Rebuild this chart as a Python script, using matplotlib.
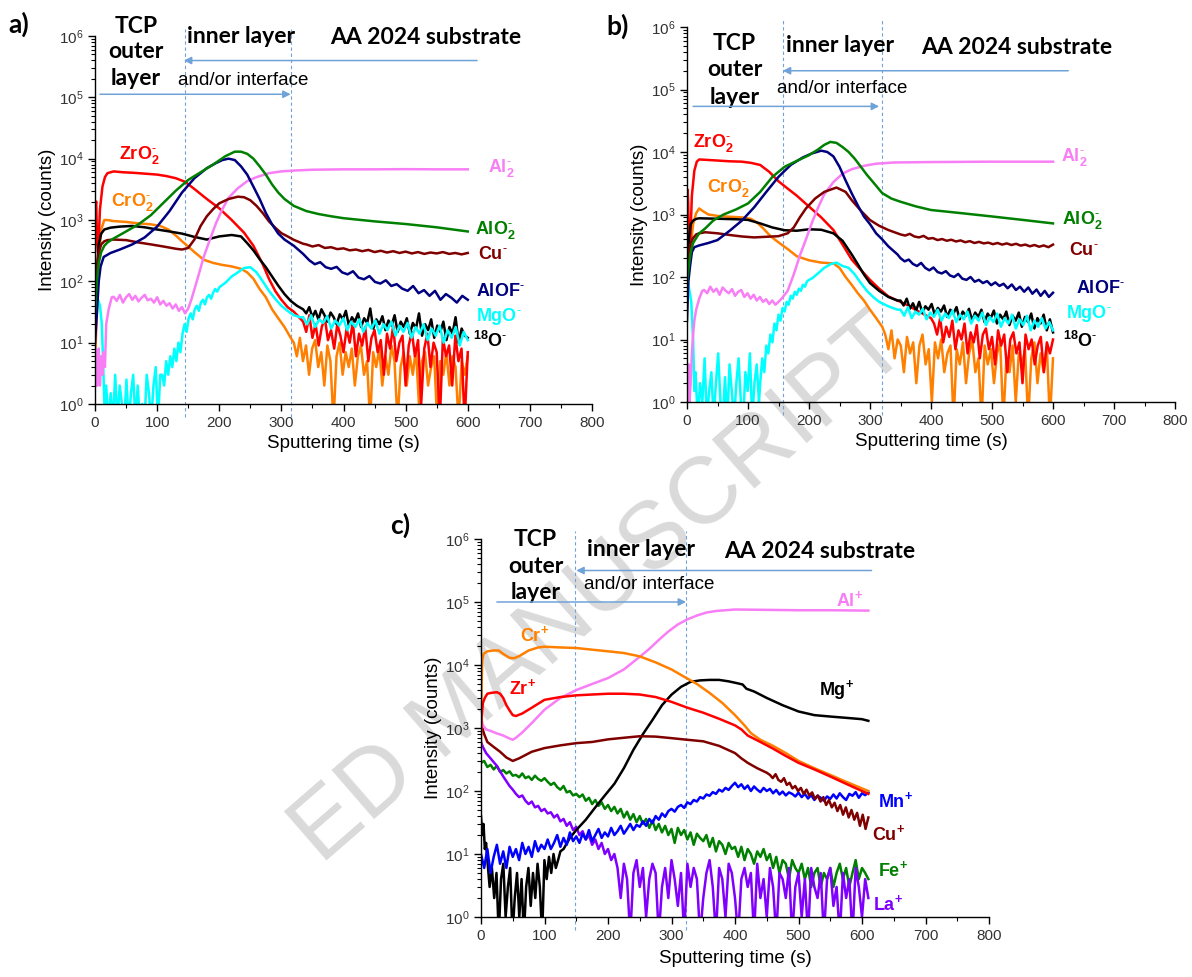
import numpy as np
import matplotlib
matplotlib.use('Agg')
import matplotlib.pyplot as plt
from matplotlib.ticker import MultipleLocator, LogLocator, NullFormatter

plt.rcParams['font.family'] = ['Liberation Sans', 'DejaVu Sans']
plt.rcParams['mathtext.fontset'] = 'custom'
plt.rcParams['mathtext.rm'] = 'Liberation Sans'
plt.rcParams['mathtext.bf'] = 'Liberation Sans:bold'
plt.rcParams['mathtext.it'] = 'Liberation Sans:italic'

# ---------------- panel a (negative ions) ----------------
a_zro2_t = [0, 1, 2, 3, 5, 8, 12, 16, 20, 30, 45, 60, 80, 100, 115, 130, 145, 160, 180, 200,
            220, 240, 255, 270, 280, 290, 300, 310, 320, 330]
a_zro2_v = [300, 1800, 2000, 600, 300, 1500, 3500, 5000, 5800, 6200, 6000, 5900, 5700, 5500, 5200, 4800, 4200, 3200, 2200, 1550,
            1000, 620, 380, 190, 110, 70, 50, 38, 32, 25]
a_zro2_tail = [22, 15, 28, 12, 20, 9, 18, 25, 11, 16, 8, 20, 13, 7, 17, 10, 22, 6, 14, 9, 18, 5, 12, 16, 7, 11, 3,
               14, 8, 19, 5, 10, 13, 2, 9, 15, 6, 11, 1, 8, 14, 4, 10, 7, 0.5, 12, 6, 9, 2, 13, 5, 8, 0.5, 7]

a_cro2_t = [0, 3, 6, 10, 15, 20, 30, 50, 70, 90, 105, 118, 130, 140, 150, 160, 175, 190, 205, 220,
            235, 245, 255, 265, 275, 285, 295, 305, 315]
a_cro2_v = [5, 30, 200, 700, 1000, 1000, 960, 930, 880, 850, 800, 700, 560, 450, 370, 300, 225, 200, 185, 175,
            160, 140, 110, 75, 55, 35, 25, 18, 12]
a_cro2_tail = [10, 6, 12, 5, 9, 3, 8, 11, 4, 7, 2, 9, 5, 0.5, 6, 10, 3, 7, 4, 8, 2, 6, 9, 3, 5, 0.5, 7, 4, 8, 2,
               6, 3, 9, 5, 0.5, 4, 7, 2, 6, 3, 8, 1, 5, 7, 2, 4, 6, 0.5, 5, 3, 7, 2, 6, 4, 0.5, 5, 3, 6]

a_o18_t = [0, 3, 6, 10, 15, 25, 40, 60, 80, 100, 120, 140, 160, 180, 200, 220, 235, 245, 255, 265,
           275, 285, 295, 305, 315, 325, 335]
a_o18_v = [20, 150, 400, 600, 700, 750, 780, 800, 760, 700, 650, 600, 530, 480, 540, 570, 540, 420, 320, 230,
           170, 120, 85, 62, 48, 40, 35]
a_o18_tail = [30, 38, 26, 33, 24, 35, 28, 22, 31, 26, 20, 29, 24, 33, 19, 26, 22, 30, 18, 25, 21, 36, 17, 24, 20,
              27, 16, 23, 19, 28, 15, 22, 18, 25, 14, 21, 17, 30, 13, 20, 16, 24, 12, 19, 15, 22, 11, 18, 14, 26,
              10, 17, 13, 12]

a_alo2_t = [0, 3, 6, 10, 15, 20, 30, 50, 70, 90, 110, 130, 150, 170, 190, 210, 225, 235, 245, 255,
            265, 275, 285, 295, 305, 320, 340, 360, 380, 400, 450, 500, 550, 600]
a_alo2_v = [30, 100, 200, 300, 380, 430, 500, 650, 850, 1200, 1900, 3000, 4500, 6000, 8000, 11000, 13000, 13000, 12000, 10000,
            7500, 5500, 3800, 2800, 2200, 1700, 1400, 1250, 1150, 1070, 950, 860, 760, 650]

a_alof_t = [0, 3, 6, 9, 14, 25, 40, 60, 80, 100, 120, 140, 160, 180, 195, 205, 215, 225, 235, 245,
            255, 265, 275, 285, 295, 305, 320, 335]
a_alof_v = [10, 30, 100, 175, 250, 290, 330, 400, 520, 780, 1400, 2800, 4800, 7000, 8500, 9500, 10000, 9500, 7500, 5500,
            3500, 2200, 1300, 850, 600, 480, 380, 280]
a_alof_tail = [220, 190, 205, 170, 160, 172, 140, 130, 146, 115, 108, 122, 98, 92, 104, 84, 90, 76, 70, 84,
               64, 72, 58, 70, 50, 62, 54, 45, 58, 50]

a_cu_t = [0, 3, 6, 10, 15, 20, 30, 50, 70, 90, 110, 130, 140, 150, 160, 170, 180, 190, 200, 215,
          230, 240, 250, 260, 270, 280, 290, 300, 310, 320, 335]
a_cu_v = [50, 150, 300, 400, 450, 470, 480, 470, 430, 400, 370, 340, 330, 350, 480, 800, 1150, 1500, 1870, 2200,
          2400, 2350, 2100, 1700, 1300, 950, 750, 610, 540, 475, 410]
a_cu_tail = [400, 370, 390, 350, 360, 335, 345, 320, 330, 310, 325, 300, 315, 295, 310, 290, 305, 285, 300, 280,
             295, 285, 300, 280, 290, 275, 290]

a_al2_t = [0, 1, 2, 3, 4, 5, 6, 8, 10, 12, 14, 16, 18, 22, 27]
a_al2_v = [2, 8, 2, 7, 2, 3, 8, 2, 6, 3, 7, 4, 20, 35, 55]
a_al2_plateau = [56, 48, 60, 45, 55, 62, 50, 58, 47, 54, 60, 49, 52, 45, 55, 42, 48, 40, 44, 36, 42, 33, 38, 30, 36]
a_al2_rise_t = [155, 165, 175, 185, 195, 205, 215, 230, 245, 260, 280, 300, 320, 350, 400, 450, 500, 550, 600]
a_al2_rise_v = [50, 110, 250, 480, 900, 1500, 2300, 3300, 4300, 5000, 5800, 6200, 6400, 6600, 6700, 6700, 6750, 6700, 6700]

a_mgo_t = [0, 2, 5, 8, 11, 13, 16]
a_mgo_v = [35, 45, 50, 40, 20, 5, 0.5]
a_mgo_low = [2, 0.5, 1.5, 0.5, 3, 0.5, 2, 1, 0.5, 2.5, 0.5, 1.5, 3, 0.5, 2, 0.5, 1, 0.5, 3, 1.5, 0.5, 2, 4, 0.5, 3]
a_mgo_rise = [3, 2, 5, 3, 6, 4, 8, 5, 10, 7, 14, 20, 15, 25, 30, 24, 35, 40, 33, 45, 50, 42, 55, 60, 52, 65, 75, 68, 80]
a_mgo_peak_t = [210, 220, 230, 240, 250, 260, 270, 280, 290, 300, 310, 320, 330]
a_mgo_peak_v = [95, 120, 140, 165, 170, 140, 100, 70, 52, 40, 33, 28, 26]
a_mgo_tail = [26, 20, 28, 18, 24, 21, 27, 17, 23, 19, 25, 16, 22, 18, 24, 15, 21, 17, 23, 14, 20, 16, 22, 13, 19,
              15, 21, 12, 18, 14, 20, 11, 17, 13, 19, 10, 16, 12, 18, 9, 15, 11]

# ---------------- panel b (negative ions) ----------------
b_zro2_t = [0, 1, 2, 3, 5, 8, 12, 16, 20, 30, 50, 70, 90, 105, 120, 135, 150, 165, 180, 200,
            220, 240, 255, 270, 285, 300, 315, 330, 345, 360, 380, 400]
b_zro2_v = [200, 2500, 1500, 400, 300, 2000, 5000, 7000, 7600, 7500, 7300, 7100, 7000, 6700, 6200, 4800, 3400, 2600, 2000, 1340,
            900, 565, 330, 190, 130, 90, 65, 49, 42, 36, 28, 22]
b_zro2_tail = [18, 12, 22, 9, 16, 11, 20, 7, 14, 10, 18, 6, 13, 9, 17, 5, 12, 15, 7, 11, 4, 14, 8, 12, 3, 10, 13,
               6, 9, 2, 12, 7, 10, 4, 8, 11, 3, 9, 6, 10]

b_cro2_t = [0, 3, 6, 10, 15, 20, 25, 35, 50, 70, 90, 105, 115, 125, 135, 145, 155, 165, 180, 200,
            220, 240, 250, 260, 270, 280, 290, 300, 310, 320]
b_cro2_v = [100, 150, 300, 700, 1050, 1250, 1150, 1000, 950, 920, 900, 850, 740, 600, 470, 390, 330, 280, 215, 185,
            170, 165, 140, 100, 75, 55, 42, 30, 22, 16]
b_cro2_tail = [12, 7, 14, 5, 10, 8, 3, 11, 6, 9, 2, 8, 12, 4, 7, 1, 9, 5, 10, 3, 6, 8, 0.5, 7, 4, 9, 2, 6, 10, 3,
               5, 0.5, 8, 4, 7, 2, 6, 9, 0.5, 5, 3, 8, 1, 6, 4, 7, 0.5, 5, 9, 2, 6, 3, 8, 0.5, 5]

b_o18_t = [0, 3, 6, 10, 15, 20, 40, 60, 80, 100, 120, 140, 160, 180, 200, 220, 240, 255, 270, 280,
           290, 300, 315, 330, 345]
b_o18_v = [100, 400, 700, 800, 850, 870, 860, 850, 840, 820, 720, 620, 560, 550, 580, 570, 500, 380, 230, 160,
           110, 80, 60, 48, 42]
b_o18_tail = [42, 35, 45, 31, 38, 29, 40, 27, 34, 30, 37, 25, 32, 28, 35, 23, 30, 26, 33, 21, 28, 24, 31, 20, 27,
              23, 30, 19, 26, 22, 29, 18, 25, 21, 28, 17, 24, 20, 27, 16, 23, 19, 26, 15, 22, 18, 25, 14, 21, 13]

b_alo2_t = [0, 3, 6, 10, 15, 20, 30, 43, 60, 80, 100, 120, 140, 160, 180, 200, 215, 225, 235, 245,
            255, 265, 275, 285, 295, 305, 320, 335, 350, 375, 400, 450, 500, 550, 600]
b_alo2_v = [80, 150, 250, 350, 420, 500, 600, 800, 1000, 1200, 1500, 2300, 4000, 5800, 7200, 8900, 11000, 13000, 14500, 14000,
            12000, 10000, 7800, 5800, 4300, 3300, 2200, 1800, 1600, 1350, 1180, 1050, 930, 820, 720]

b_alof_t = [0, 2, 5, 8, 12, 20, 35, 50, 70, 90, 110, 130, 150, 170, 190, 205, 220, 230, 240, 250,
            260, 270, 280, 290, 300, 310, 320, 330, 345]
b_alof_v = [20, 80, 150, 250, 300, 320, 350, 390, 550, 800, 1300, 2300, 4000, 6200, 8200, 9500, 10500, 10000, 8500, 5800,
            3500, 2180, 1400, 930, 700, 500, 400, 310, 230]
b_alof_tail = [200, 178, 190, 162, 150, 168, 140, 128, 142, 120, 114, 124, 106, 100, 112, 94, 90, 100, 84, 90,
               80, 86, 74, 82, 72, 78, 66, 76, 62, 70, 58, 68, 54, 63, 50, 60, 48, 56]

b_cu_t = [0, 3, 6, 10, 15, 20, 30, 50, 70, 90, 110, 130, 150, 165, 175, 185, 195, 210, 225, 245,
          260, 270, 285, 300, 315, 330, 345]
b_cu_v = [100, 250, 350, 420, 480, 500, 520, 500, 470, 445, 430, 440, 450, 500, 620, 900, 1250, 1800, 2300, 2700,
          2300, 1700, 1150, 815, 660, 565, 500]
b_cu_tail = [480, 460, 490, 445, 430, 455, 410, 420, 390, 405, 380, 395, 370, 385, 360, 375, 350, 365, 345, 355,
             335, 350, 330, 345, 325, 340, 318, 330, 310, 325, 305, 320, 300, 330]

b_al2_t = [0, 1, 2, 3, 4, 6, 8, 10, 12, 15, 20, 25]
b_al2_v = [1, 3, 1, 4, 1, 2, 6, 12, 20, 30, 45, 60]
b_al2_plateau = [62, 55, 70, 58, 65, 52, 68, 60, 55, 64, 50, 58, 62, 48, 55, 45, 52, 42, 48, 40, 44, 37, 42, 36, 40]
b_al2_rise_t = [155, 165, 175, 185, 195, 205, 215, 225, 240, 255, 270, 290, 310, 340, 400, 500, 600]
b_al2_rise_v = [45, 60, 110, 220, 400, 750, 1300, 2100, 3300, 4500, 5300, 6000, 6500, 6800, 6900, 7000, 7000]

b_mgo_t = [0, 2, 4, 7, 10, 12]
b_mgo_v = [50, 80, 60, 40, 10, 1.5]
b_mgo_low = [3, 0.5, 2, 1, 5, 0.5, 1.5, 3, 0.5, 2, 6, 1, 0.5, 2.5, 0.5, 4, 1.5, 0.5, 2, 5, 1, 0.5, 3, 1.5, 6,
             0.5, 2, 4, 1]
b_mgo_rise = [2, 5, 3, 8, 6, 12, 9, 18, 14, 25, 20, 32, 28, 40, 36, 50, 45, 58, 52, 65, 60, 75, 70, 85, 90]
b_mgo_peak_t = [205, 215, 225, 235, 245, 255, 265, 275, 285, 295, 305, 315, 330, 345]
b_mgo_peak_v = [95, 115, 140, 160, 170, 150, 140, 110, 80, 60, 48, 40, 34, 30]
b_mgo_tail = [30, 24, 33, 22, 28, 25, 31, 21, 27, 23, 30, 20, 26, 22, 29, 19, 25, 21, 28, 18, 24, 20, 27, 17, 23,
              19, 26, 16, 22, 18, 25, 15, 21, 17, 24, 14, 20, 16, 22, 15, 19, 14]

# ---------------- panel c (positive ions) ----------------
c_al_t = [0, 3, 8, 15, 25, 35, 45, 50, 55, 65, 80, 100, 125, 150, 175, 200, 225, 250, 265, 280,
          295, 310, 325, 340, 355, 370, 385, 400, 450, 500, 550, 610]
c_al_v = [1500, 1100, 950, 900, 820, 760, 680, 650, 700, 850, 1200, 1950, 3000, 4000, 5000, 6200, 8500, 13500, 18000, 25000,
          34000, 44000, 53000, 61000, 68000, 72000, 74000, 76000, 75000, 74000, 74000, 73000]

c_cr_t = [0, 1, 2, 4, 10, 20, 28, 35, 45, 52, 60, 75, 90, 100, 125, 150, 175, 200, 225, 250,
          275, 300, 320, 340, 360, 380, 400, 415, 425, 440, 460, 480, 500, 525, 550, 575, 600, 610]
c_cr_v = [500, 5000, 12000, 15000, 16500, 17000, 17000, 15000, 13000, 12800, 13800, 17000, 19000, 19500, 19000, 18600, 17500, 16500, 15500, 13700,
          11000, 8500, 6500, 5000, 3600, 2500, 1600, 1100, 830, 650, 520, 400, 300, 230, 180, 140, 110, 100]

c_zr_t = [0, 1, 3, 6, 10, 15, 25, 30, 35, 40, 45, 50, 55, 65, 80, 100, 125, 150, 175, 200,
          225, 250, 275, 300, 325, 350, 375, 400, 410, 420, 440, 460, 480, 500, 525, 550, 575, 600, 610]
c_zr_v = [800, 1500, 2500, 3000, 3500, 3600, 3700, 3500, 3000, 2300, 1900, 1600, 1550, 1700, 2100, 2800, 3100, 3300, 3400, 3500,
          3500, 3400, 3100, 2600, 2100, 1750, 1400, 1100, 950, 760, 600, 470, 360, 280, 220, 170, 130, 100, 90]

c_mg_t0 = [0, 2, 4, 6, 8]
c_mg_v0 = [40, 20, 30, 12, 15]
c_mg_low = [8, 3, 6, 2, 5, 0.5, 4, 7, 1, 3, 6, 0.5, 2, 5, 1, 4, 0.5, 3, 6, 1.5, 5, 2, 7, 3, 0.5, 8, 4, 9, 5, 10,
            6, 8, 11]
c_mg_t = [130, 140, 150, 165, 180, 195, 210, 225, 240, 255, 270, 285, 300, 315, 330, 345, 360, 375, 390, 405,
          412, 418, 430, 450, 475, 500, 525, 550, 575, 600, 610]
c_mg_v = [12, 18, 24, 35, 55, 85, 130, 230, 450, 800, 1340, 2300, 3380, 4500, 5400, 5700, 5800, 5800, 5500, 5100,
          4900, 4200, 3800, 3000, 2300, 1830, 1600, 1520, 1450, 1380, 1300]

c_cu_t = [0, 2, 5, 10, 20, 30, 40, 50, 60, 80, 100, 125, 150, 175, 200, 225, 250, 275, 300, 325,
          350, 375, 400, 410, 420, 435, 450]
c_cu_v = [900, 1000, 800, 600, 500, 420, 340, 300, 330, 420, 480, 530, 575, 600, 660, 700, 740, 730, 690, 650,
          615, 520, 400, 330, 280, 230, 195]
c_cu_tail = [180, 160, 185, 150, 140, 160, 125, 135, 110, 120, 100, 112, 90, 105, 85, 95, 75, 85, 68, 80, 60, 72,
             55, 65, 48, 60, 42, 55, 38, 50, 35, 45, 28, 42, 25, 38]

c_mn = [10, 6, 12, 5, 9, 14, 7, 11, 6, 13, 9,
        12, 8, 15, 10, 13, 9, 16, 11, 14, 12,
        17, 12, 15, 20, 13, 18, 14, 22, 16, 19,
        15, 21, 17, 24, 16, 20, 25, 18, 22, 19,
        26, 20, 23, 28, 21, 25, 30, 24, 29, 27,
        33, 28, 36, 31, 40, 35, 44, 39, 48, 52,
        47, 56, 60, 54, 66, 62, 72, 68, 80, 76,
        88, 84, 96, 90, 105, 98, 112, 104, 120, 135,
        115, 128, 108, 122, 100, 118, 105, 96, 112, 100,
        108, 92, 104, 88, 98, 85, 95, 90, 82, 94,
        80, 90, 76, 86, 72, 84, 78, 70, 82, 75,
        88, 76, 92, 80, 72, 90, 84, 96, 78, 92, 86, 95]
c_fe = [280, 300, 240, 260, 220, 250, 200, 215, 190, 205, 175,
        180, 165, 190, 160, 170, 150, 175, 155, 145, 160,
        140, 125, 135, 115, 105, 120, 95, 100, 85, 90,
        80, 88, 70, 78, 62, 72, 58, 66, 52, 60,
        48, 56, 44, 52, 38, 47, 35, 43, 32, 40,
        30, 36, 26, 34, 24, 30, 22, 28, 20, 25,
        15, 26, 20, 24, 17, 22, 14, 21, 18, 16,
        20, 13, 18, 11, 16, 14, 10, 15, 12, 13,
        9, 13, 8, 12, 10, 7, 11, 9, 12, 8,
        10, 6, 9, 5, 8, 7, 4, 8, 6, 5,
        7, 4, 6, 3, 5, 6, 3, 5, 4, 6,
        3, 5, 7, 4, 6, 3, 5, 8, 4, 6, 5, 4]
c_la_t = [0, 3, 8, 15, 25, 35, 45]
c_la_v = [600, 500, 400, 330, 250, 170, 120]
c_la_mid = [105, 90, 80, 85, 70, 62, 68, 55, 58, 48, 52, 44, 46, 38, 42, 33, 36, 28, 32, 24, 27, 20, 23, 17, 20,
            14, 17, 12, 15, 10, 12, 8, 10]
c_la_tail = [6, 2, 7, 4, 0.5, 5, 8, 3, 6, 1, 4, 7, 5, 0.5, 3, 6, 2, 8, 4, 1.5, 5, 0.5, 7, 3, 6, 4, 0.5, 2, 5, 8,
             3, 0.5, 6, 4, 1, 7, 5, 2, 0.5, 4, 6, 3, 5, 0.5, 7, 2, 4, 1, 6, 3, 0.5, 5, 4, 2, 6, 0.5, 3, 5, 1, 4,
             0.5, 6, 3, 2, 5, 0.5, 4, 6, 1.5, 3, 0.5, 5, 2, 4, 0.5, 6, 3, 1, 4, 2]

RED = '#ff0000'
ORANGE = '#ff8000'
GREEN = '#008000'
NAVY = '#000080'
MAROON = '#800000'
PINK = '#f87ef5'
CYAN = '#00ffff'
BLUE = '#0000ff'
PURPLE = '#8000ff'
ARROW = '#6fa3d8'


def trace(*parts):
    # parts: (times, values) knots, or (t_start, t_end, values) for an evenly spaced noisy stretch
    ts, vs = [], []
    for p in parts:
        if len(p) == 2:
            ts += list(p[0])
            vs += list(p[1])
        else:
            ts += list(np.linspace(p[0], p[1], len(p[2])))
            vs += list(p[2])
    return np.array(ts, float), np.array(vs, float)


def setup(ax):
    ax.set_yscale('log')
    ax.set_xlim(0, 800)
    ax.set_ylim(1, 1e6)
    ax.set_facecolor('none')
    for s in ('top', 'right'):
        ax.spines[s].set_visible(False)
    for s in ('left', 'bottom'):
        ax.spines[s].set_linewidth(1.0)
    ax.xaxis.set_major_locator(MultipleLocator(100))
    ax.xaxis.set_minor_locator(MultipleLocator(50))
    ax.yaxis.set_major_locator(LogLocator(base=10, numticks=10))
    ax.yaxis.set_minor_locator(LogLocator(base=10, subs=np.arange(2, 10), numticks=10))
    ax.yaxis.set_minor_formatter(NullFormatter())
    ax.tick_params(which='major', direction='out', length=5, width=1, labelsize=11, labelcolor='#333333')
    ax.tick_params(which='minor', direction='out', length=3, width=0.8)
    ax.set_xlabel('Sputtering time (s)', fontsize=13.5, labelpad=4)
    ax.set_ylabel('Intensity (counts)', fontsize=13.5, labelpad=2)


def header(ax, tcp_x, tcp_y, inner_xy, aa_xy, and_xy, low_arrow, up_arrow, dashes):
    hf = dict(family=['Lato', 'DejaVu Sans'], fontweight='bold', fontsize=16.5,
              ha='center', va='center', clip_on=False)
    for word, ly in zip(['TCP', 'outer', 'layer'], tcp_y):
        ax.text(tcp_x, 10 ** ly, word, **hf)
    ax.text(inner_xy[0], 10 ** inner_xy[1], 'inner layer', **hf)
    ax.text(aa_xy[0], 10 ** aa_xy[1], 'AA 2024 substrate', **hf)
    ax.text(and_xy[0], 10 ** and_xy[1], 'and/or interface', fontsize=13.5, ha='center', va='center',
            clip_on=False)
    for (x0, x1, ly) in (low_arrow, up_arrow):
        ax.annotate('', xy=(x1, 10 ** ly), xytext=(x0, 10 ** ly), annotation_clip=False,
                    arrowprops=dict(arrowstyle='-|>', color=ARROW, lw=1.1, mutation_scale=11,
                                    shrinkA=0, shrinkB=0))
    for xd in dashes:
        ax.plot([xd, xd], [-0.035, 1.02], transform=ax.get_xaxis_transform(), color=ARROW,
                lw=0.8, ls=(0, (3, 2.5)), clip_on=False, zorder=1)


def label(ax, x, ly, txt, color):
    ax.text(x, 10 ** ly, txt, color=color, fontsize=13, fontweight='bold', ha='left', va='center',
            clip_on=False)


W, H = 1192, 977
fig = plt.figure(figsize=(W / 100, H / 100), dpi=100)
fig.patch.set_facecolor('white')

# watermark (only its visible part), kept inside the canvas
fig.text(600 / W, 1 - 590 / H, 'ED MANUSCRIPT', rotation=41, fontsize=68, color='#dadada',
         ha='center', va='center', zorder=-1)

LW = 1.8
MN = r'^{\text{-}}'
PL = r'^{+}'

# ---------- a ----------
axa = fig.add_axes([95 / W, 1 - 404 / H, 497 / W, 368 / H])
setup(axa)
header(axa, 66, [6.16, 5.74, 5.30], (235, 6.0), (532, 5.97), (238, 5.28),
       (8, 315, 5.05), (615, 143, 5.6), [145, 315])
for tv, c in [
    (trace((a_cro2_t, a_cro2_v), (320, 600, a_cro2_tail)), ORANGE),
    (trace((a_zro2_t, a_zro2_v), (335, 600, a_zro2_tail)), RED),
    (trace((a_o18_t, a_o18_v), (340, 600, a_o18_tail)), 'black'),
    (trace((a_mgo_t, a_mgo_v), (18, 105, a_mgo_low), (108, 200, a_mgo_rise),
           (a_mgo_peak_t, a_mgo_peak_v), (335, 600, a_mgo_tail)), CYAN),
    (trace((a_al2_t, a_al2_v), (30, 150, a_al2_plateau), (a_al2_rise_t, a_al2_rise_v)), PINK),
    (trace((a_cu_t, a_cu_v), (340, 600, a_cu_tail)), MAROON),
    (trace((a_alof_t, a_alof_v), (345, 600, a_alof_tail)), NAVY),
    (trace((a_alo2_t, a_alo2_v)), GREEN),
]:
    axa.plot(tv[0], tv[1], color=c, lw=LW)
label(axa, 38, 4.06, r'$\mathbf{ZrO_2' + MN + '}$', RED)
label(axa, 26, 3.30, r'$\mathbf{CrO_2' + MN + '}$', ORANGE)
label(axa, 633, 3.85, r'$\mathbf{Al_2' + MN + '}$', PINK)
label(axa, 611, 2.84, r'$\mathbf{AlO_2' + MN + '}$', GREEN)
label(axa, 617, 2.43, r'$\mathbf{Cu' + MN + '}$', MAROON)
label(axa, 613, 1.84, r'$\mathbf{AlOF' + MN + '}$', NAVY)
label(axa, 614, 1.42, r'$\mathbf{MgO' + MN + '}$', CYAN)
label(axa, 608, 1.03, r'$\mathbf{^{18}O' + MN + '}$', 'black')

# ---------- b ----------
axb = fig.add_axes([687 / W, 1 - 402 / H, 488 / W, 375 / H])
setup(axb)
header(axb, 78, [5.73, 5.32, 4.88], (251, 5.71), (540, 5.68), (255, 5.02),
       (10, 315, 4.73), (625, 157, 5.3), [157, 320])
for tv, c in [
    (trace((b_cro2_t, b_cro2_v), (325, 600, b_cro2_tail)), ORANGE),
    (trace((b_zro2_t, b_zro2_v), (405, 600, b_zro2_tail)), RED),
    (trace((b_o18_t, b_o18_v), (350, 600, b_o18_tail)), 'black'),
    (trace((b_mgo_t, b_mgo_v), (14, 118, b_mgo_low), (120, 200, b_mgo_rise),
           (b_mgo_peak_t, b_mgo_peak_v), (350, 600, b_mgo_tail)), CYAN),
    (trace((b_al2_t, b_al2_v), (28, 150, b_al2_plateau), (b_al2_rise_t, b_al2_rise_v)), PINK),
    (trace((b_cu_t, b_cu_v), (350, 600, b_cu_tail)), MAROON),
    (trace((b_alof_t, b_alof_v), (350, 600, b_alof_tail)), NAVY),
    (trace((b_alo2_t, b_alo2_v)), GREEN),
]:
    axb.plot(tv[0], tv[1], color=c, lw=LW)
label(axb, 10, 4.14, r'$\mathbf{ZrO_2' + MN + '}$', RED)
label(axb, 33, 3.42, r'$\mathbf{CrO_2' + MN + '}$', ORANGE)
label(axb, 613, 3.92, r'$\mathbf{Al_2' + MN + '}$', PINK)
label(axb, 615, 2.91, r'$\mathbf{AlO_2' + MN + '}$', GREEN)
label(axb, 627, 2.43, r'$\mathbf{Cu' + MN + '}$', MAROON)
label(axb, 637, 1.82, r'$\mathbf{AlOF' + MN + '}$', NAVY)
label(axb, 622, 1.42, r'$\mathbf{MgO' + MN + '}$', CYAN)
label(axb, 617, 0.97, r'$\mathbf{^{18}O' + MN + '}$', 'black')

# ---------- c ----------
axc = fig.add_axes([481 / W, 1 - 917 / H, 508 / W, 378 / H])
setup(axc)
axc.xaxis.labelpad = 5
header(axc, 86, [6.0, 5.56, 5.15], (252, 5.83), (533, 5.8), (265, 5.27),
       (25, 323, 5.0), (615, 150, 5.5), [148, 323])
for tv, c in [
    (trace((0, 610, c_fe)), GREEN),
    (trace((c_la_t, c_la_v), (50, 210, c_la_mid), (215, 610, c_la_tail)), PURPLE),
    (trace((c_mg_t0, c_mg_v0), (10, 125, c_mg_low), (c_mg_t, c_mg_v)), 'black'),
    (trace((0, 610, c_mn)), BLUE),
    (trace((c_cu_t, c_cu_v), (455, 610, c_cu_tail)), MAROON),
    (trace((c_al_t, c_al_v)), PINK),
    (trace((c_cr_t, c_cr_v)), ORANGE),
    (trace((c_zr_t, c_zr_v)), RED),
]:
    axc.plot(tv[0], tv[1], color=c, lw=LW)
label(axc, 62, 4.48, r'$\mathbf{Cr' + PL + '}$', ORANGE)
label(axc, 44, 3.63, r'$\mathbf{Zr' + PL + '}$', RED)
label(axc, 559, 5.03, r'$\mathbf{Al' + PL + '}$', PINK)
label(axc, 532, 3.61, r'$\mathbf{Mg' + PL + '}$', 'black')
label(axc, 625, 1.84, r'$\mathbf{Mn' + PL + '}$', BLUE)
label(axc, 615, 1.31, r'$\mathbf{Cu' + PL + '}$', MAROON)
label(axc, 625, 0.74, r'$\mathbf{Fe' + PL + '}$', GREEN)
label(axc, 618, 0.20, r'$\mathbf{La' + PL + '}$', PURPLE)

pf = dict(family=['Lato', 'DejaVu Sans'], fontweight='bold', fontsize=19, ha='left', va='center')
fig.text(8 / W, 1 - 24 / H, 'a)', **pf)
fig.text(606 / W, 1 - 26 / H, 'b)', **pf)
fig.text(390 / W, 1 - 525 / H, 'c)', **pf)

fig.savefig('out.png', dpi=100, facecolor='white')
